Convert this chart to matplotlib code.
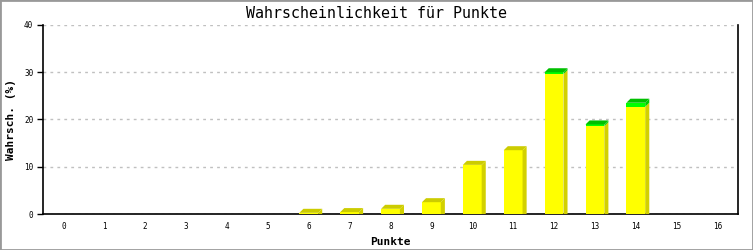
import numpy as np
import matplotlib
matplotlib.use("Agg")
import matplotlib.pyplot as plt
from matplotlib.patches import Polygon, Rectangle

# data
punkte = list(range(17))
gelb = [0, 0, 0, 0, 0, 0, 0.25, 0.4, 1.1, 2.5, 10.4, 13.5, 29.6, 18.6, 22.7, 0, 0]
gruen = [0, 0, 0, 0, 0, 0, 0, 0, 0, 0, 0, 0, 0.4, 0.35, 0.85, 0, 0]
y_ticks = [0, 10, 20, 30, 40]

plt.rcParams["font.family"] = "DejaVu Sans Mono"

fig = plt.figure(figsize=(7.53, 2.5), dpi=100)
ax = fig.add_axes([43 / 753, 36 / 250, 695 / 753, 189 / 250])

w = 0.46
dx = 0.1    # depth of the fake 3d, in data units
dy = 0.85

segments = [(gelb, "#ffff00", "#d2d000", "#cccc00"),
            (gruen, "#00ff00", "#00cc00", "#00c000")]

for i, x in enumerate(punkte):
    bottom = 0
    top_color = None
    for vals, front, side, topc in segments:
        h = vals[i]
        if h <= 0:
            continue
        ax.bar(x, h, width=w, bottom=bottom, color=front, zorder=3, linewidth=0)
        xr = x + w / 2
        ax.add_patch(Polygon([(xr, bottom), (xr + dx, bottom + (dy if bottom > 0 else 0)),
                              (xr + dx, bottom + h + dy), (xr, bottom + h)],
                             closed=True, facecolor=side, edgecolor="none", zorder=3))
        bottom += h
        top_color = topc
    if top_color is not None:
        xl = x - w / 2
        ax.add_patch(Polygon([(xl, bottom), (xl + dx, bottom + dy),
                              (x + w / 2 + dx, bottom + dy), (x + w / 2, bottom)],
                             closed=True, facecolor=top_color, edgecolor="none", zorder=3))

ax.set_xlim(-0.5, 16.5)
ax.set_ylim(0, 40)
ax.set_xticks(punkte)
ax.set_xticklabels([str(p) for p in punkte], fontsize=5.5)
ax.set_yticks(y_ticks)
ax.set_yticklabels([str(v) for v in y_ticks], fontsize=5.5)
ax.tick_params(axis="x", length=0, pad=6)
ax.tick_params(axis="y", length=4, width=1, pad=3)

ax.yaxis.grid(True, color="#c0c0c0", linestyle=(0, (2, 3)), linewidth=1)
ax.set_axisbelow(True)

for s in ["left", "bottom", "right"]:
    ax.spines[s].set_linewidth(1.2)
ax.spines["top"].set_visible(False)

fig.text(0.5, 0.948, "Wahrscheinlichkeit für Punkte", fontsize=10.8,
         ha="center", va="center")
ax.set_xlabel("Punkte", fontsize=8, fontweight="bold", labelpad=4)
ax.set_ylabel("Wahrsch. (%)", fontsize=8, fontweight="bold", labelpad=6)

fig.patches.append(Rectangle((0, 0), 1, 1, transform=fig.transFigure, fill=False,
                             edgecolor="#999999", linewidth=2))

fig.savefig("out.png", dpi=100)
